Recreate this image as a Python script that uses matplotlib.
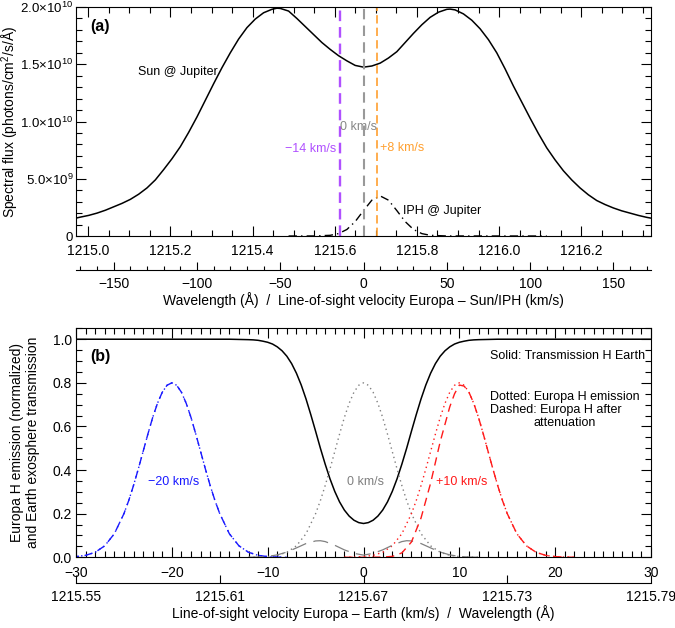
import numpy as np
import matplotlib
matplotlib.use("Agg")
import matplotlib.pyplot as plt
from matplotlib.ticker import MultipleLocator, FixedLocator, FixedFormatter, FormatStrFormatter

plt.rcParams['font.family'] = ['Liberation Sans', 'DejaVu Sans']
plt.rcParams['mathtext.fontset'] = 'custom'
plt.rcParams['mathtext.rm'] = 'Liberation Sans'
plt.rcParams['mathtext.it'] = 'Liberation Sans:italic'
plt.rcParams['axes.unicode_minus'] = True

LAM0 = 1215.67
KMS_PER_A = 246.61  # c / lambda0

# ---- panel (a) data: velocity (km/s) and flux (1e10 photons/cm2/s/A)
sun_v = [-173, -170, -165, -160, -155, -150, -145, -140, -135, -130, -125, -120, -115, -110, -105,
         -100, -95, -90, -85, -80, -75, -70, -65, -60, -55, -52, -50, -45, -40, -35, -30, -25, -20,
         -15, -10, -5, 0, 5, 10, 15, 20, 25, 30, 35, 40, 45, 50, 52, 55, 60, 65, 70, 75, 80, 85,
         90, 95, 100, 105, 110, 115, 120, 125, 130, 135, 140, 145, 150, 155, 160, 165, 170, 173]
sun_flux = [0.155, 0.165, 0.18, 0.20, 0.225, 0.255, 0.285, 0.32, 0.365, 0.42, 0.49, 0.58, 0.675, 0.78, 0.905,
            1.04, 1.185, 1.33, 1.47, 1.60, 1.72, 1.82, 1.895, 1.95, 1.98, 1.99, 1.988, 1.965, 1.90, 1.83, 1.76, 1.69, 1.63,
            1.575, 1.53, 1.49, 1.475, 1.485, 1.51, 1.555, 1.61, 1.69, 1.77, 1.845, 1.91, 1.955, 1.98, 1.982, 1.975, 1.94, 1.885, 1.81, 1.715, 1.60, 1.46,
            1.31, 1.17, 1.03, 0.895, 0.77, 0.665, 0.57, 0.49, 0.42, 0.36, 0.31, 0.275, 0.245, 0.22, 0.20, 0.18, 0.163, 0.155]

iph_v = [-45, -30, -20, -15, -10, -5, 0, 5, 10, 15, 20, 25, 30, 35, 40, 50, 110]
iph_flux = [0.0, 0.0003, 0.006, 0.021, 0.057, 0.126, 0.222, 0.313, 0.35, 0.313, 0.222, 0.126, 0.057, 0.021, 0.006, 0.0003, 0.0]

shift_v = [-14, 0, 8]
shift_labels = ['\u221214 km/s', '0 km/s', '+8 km/s']
shift_colors = ['#b050ff', '#999999', '#ffa030']

# ---- panel (b) data
trans_v = [-30, -14, -13, -12, -11.5, -11, -10.5, -10, -9.5, -9, -8.5, -8, -7.5, -7, -6.5, -6, -5.5, -5,
           -4.5, -4, -3.5, -3, -2.5, -2, -1.5, -1, -0.5, 0,
           0.5, 1, 1.5, 2, 2.5, 3, 3.5, 4, 4.5, 5, 5.5, 6, 6.5, 7, 7.5, 8, 8.5, 9, 9.5, 10,
           10.5, 11, 11.5, 12, 13, 14, 30]
trans = [1.0, 1.0, 0.999, 0.998, 0.997, 0.995, 0.991, 0.986, 0.978, 0.965, 0.947, 0.922, 0.888, 0.844, 0.79, 0.726, 0.654, 0.578,
         0.50, 0.427, 0.36, 0.302, 0.254, 0.2165, 0.189, 0.170, 0.159, 0.155,
         0.159, 0.170, 0.189, 0.2165, 0.254, 0.302, 0.36, 0.427, 0.50, 0.578, 0.654, 0.726, 0.79, 0.844, 0.888, 0.922, 0.947, 0.965, 0.978, 0.986,
         0.991, 0.995, 0.997, 0.998, 0.999, 1.0, 1.0]

# Europa emission line shape (offset from line centre, km/s)
emis_off = [-12, -11, -10, -9, -8, -7, -6, -5, -4.5, -4, -3.5, -3, -2.5, -2, -1.5, -1, -0.5, 0,
            0.5, 1, 1.5, 2, 2.5, 3, 3.5, 4, 4.5, 5, 6, 7, 8, 9, 10, 11, 12]
emis = [0.0, 0.001, 0.0031, 0.0089, 0.0229, 0.0526, 0.108, 0.200, 0.26, 0.329, 0.405, 0.485, 0.565, 0.641, 0.706, 0.757, 0.789, 0.8,
        0.789, 0.757, 0.706, 0.641, 0.565, 0.485, 0.405, 0.329, 0.26, 0.200, 0.108, 0.0526, 0.0229, 0.0089, 0.0031, 0.001, 0.0]

centres = [-20, 0, 10]
centre_labels = ['\u221220 km/s', '0 km/s', '+10 km/s']
centre_colors = ['#1a1aff', '#808080', '#ff1a1a']

# attenuated emission (dashed)
att0_v = [-12, -11, -10, -9, -8, -7, -6, -5, -4.5, -4, -3, -2, -1, 0, 1, 2, 3, 4, 4.5, 5, 6, 7, 8, 9, 10, 11, 12]
att0 = [0.0, 0.001, 0.004, 0.011, 0.024, 0.043, 0.063, 0.075, 0.076, 0.072, 0.055, 0.034, 0.018, 0.010,
        0.018, 0.034, 0.055, 0.072, 0.076, 0.075, 0.063, 0.043, 0.024, 0.011, 0.004, 0.001, 0.0]
att10_v = [-2, 0, 2, 3, 4, 5, 6, 7, 8, 9, 9.5, 10, 10.5, 11, 11.5, 12, 12.5, 13, 13.5, 14, 14.5, 15,
           16, 17, 18, 19, 20, 21, 22]
att10 = [0.0, 0.0, 0.001, 0.004, 0.02, 0.07, 0.18, 0.34, 0.53, 0.69, 0.75, 0.79, 0.785, 0.757, 0.706, 0.641,
         0.565, 0.485, 0.405, 0.329, 0.26, 0.200, 0.108, 0.0526, 0.0229, 0.0089, 0.0031, 0.001, 0.0]


def v2l(v):
    return LAM0 + np.asarray(v, dtype=float) / KMS_PER_A


def l2v(l):
    return (np.asarray(l, dtype=float) - LAM0) * KMS_PER_A


fig = plt.figure(figsize=(6.75, 6.28), dpi=100)
ax1 = fig.add_axes([0.1126, 0.6242, 0.8519, 0.3646])
ax2 = fig.add_axes([0.1126, 0.1126, 0.8519, 0.3646])

tick_kw = dict(direction='in', top=True, right=True, labelsize=10, width=0.8)

# ================= panel (a)
ax1.plot(v2l(sun_v), np.array(sun_flux) * 1e10, color='black', lw=1.1)
ax1.plot(v2l(iph_v), np.array(iph_flux) * 1e10, color='black', lw=1.0, linestyle=(0, (6, 3, 1, 3)))
for vs, c, lw, d in zip(shift_v, shift_colors, [1.7, 1.5, 1.2], [(4.5, 2.5), (5, 3), (5, 2.5)]):
    ax1.axvline(v2l(vs), color=c, lw=lw, linestyle=(0, d))

ax1.text(v2l(-16.6), 0.76e10, shift_labels[0], color=shift_colors[0], fontsize=9, ha='right', va='center')
ax1.text(v2l(-14.2), 0.956e10, shift_labels[1], color='#888888', fontsize=9, ha='left', va='center')
ax1.text(v2l(9.7), 0.77e10, shift_labels[2], color=shift_colors[2], fontsize=9, ha='left', va='center')
ax1.text(v2l(-111.2), 1.43e10, 'Sun @ Jupiter', fontsize=9, ha='center', va='center')
ax1.text(v2l(23.5), 0.22e10, 'IPH @ Jupiter', fontsize=9, ha='left', va='center')
ax1.text(0.024, 0.913, '(a)', transform=ax1.transAxes, fontsize=11.5, fontweight='bold', ha='left', va='center')

ax1.set_xlim(LAM0 - 0.7, LAM0 + 0.7)
ax1.set_ylim(0, 2.0e10)
ax1.xaxis.set_major_locator(FixedLocator([1215.0, 1215.2, 1215.4, 1215.6, 1215.8, 1216.0, 1216.2]))
ax1.xaxis.set_major_formatter(FormatStrFormatter('%.1f'))
ax1.xaxis.set_minor_locator(MultipleLocator(0.05))
ax1.yaxis.set_major_locator(FixedLocator([0, 0.5e10, 1.0e10, 1.5e10, 2.0e10]))
ax1.yaxis.set_major_formatter(FixedFormatter(['0', '5.0\u00d710$^{9}$', '1.0\u00d710$^{10}$',
                                              '1.5\u00d710$^{10}$', '2.0\u00d710$^{10}$']))
ax1.yaxis.set_minor_locator(MultipleLocator(0.1e10))
ax1.tick_params(which='both', **tick_kw)
ax1.tick_params(which='major', length=7)
ax1.tick_params(which='minor', length=4)
ax1.tick_params(axis='y', pad=2, labelsize=9.5)
ax1.tick_params(axis='x', pad=5.5)
ax1.set_ylabel('Spectral flux (photons/cm$^{2}$/s/\u00c5)', fontsize=10)
ax1.yaxis.set_label_coords(-0.095, 0.5)

sec1 = ax1.secondary_xaxis(-0.148, functions=(l2v, v2l))
sec1.xaxis.set_major_locator(FixedLocator([-150, -100, -50, 0, 50, 100, 150]))
sec1.xaxis.set_minor_locator(FixedLocator(list(range(-170, 171, 10))))
sec1.tick_params(which='both', direction='in', labelsize=10, width=0.8, pad=5)
sec1.tick_params(which='major', length=6)
sec1.tick_params(which='minor', length=3)
sec1.set_xlabel('Wavelength (\u00c5)  /  Line-of-sight velocity Europa \u2013 Sun/IPH (km/s)', fontsize=10, labelpad=1)

# ================= panel (b)
ax2.plot(trans_v, trans, color='black', lw=1.1)
for cv, col in zip(centres, centre_colors):
    ax2.plot(np.array(emis_off) + cv, emis, color=col, lw=1.0, linestyle=(0, (1, 2.5)))
ax2.plot(np.array(emis_off) - 20, emis, color=centre_colors[0], lw=1.0, linestyle=(0, (6, 4)))
ax2.plot(att0_v, att0, color=centre_colors[1], lw=0.9, linestyle=(0, (12, 6)))
ax2.plot(att10_v, att10, color=centre_colors[2], lw=1.0, linestyle=(0, (6, 4)))

for cv, lab, col in zip(centres, centre_labels, centre_colors):
    ax2.text(cv + 0.2, 0.347, lab, color=col, fontsize=9, ha='center', va='center')

ax2.text(13.2, 0.925, 'Solid: Transmission H Earth', fontsize=9, ha='left', va='center')
ax2.text(13.2, 0.737, 'Dotted: Europa H emission', fontsize=9, ha='left', va='center')
ax2.text(13.2, 0.676, 'Dashed: Europa H after', fontsize=9, ha='left', va='center')
ax2.text(17.7, 0.616, 'attenuation', fontsize=9, ha='left', va='center')
ax2.text(0.024, 0.876, '(b)', transform=ax2.transAxes, fontsize=11.5, fontweight='bold', ha='left', va='center')

ax2.set_xlim(-30, 30)
ax2.set_ylim(0, 1.05)
ax2.xaxis.set_major_locator(MultipleLocator(10))
ax2.xaxis.set_minor_locator(MultipleLocator(1))
ax2.yaxis.set_major_locator(MultipleLocator(0.2))
ax2.yaxis.set_minor_locator(MultipleLocator(0.05))
ax2.yaxis.set_major_formatter(FormatStrFormatter('%.1f'))
ax2.tick_params(which='both', **tick_kw)
ax2.tick_params(which='major', length=7)
ax2.tick_params(which='minor', length=4)
ax2.tick_params(axis='x', pad=6)
ax2.tick_params(axis='y', pad=3)
ax2.set_ylabel('Europa H emission (normalized)\nand Earth exosphere transmission', fontsize=10)
ax2.yaxis.set_label_coords(-0.062, 0.5)

sec2 = ax2.secondary_xaxis(-0.112, functions=(lambda v: LAM0 + v * 0.004, lambda l: (l - LAM0) / 0.004))
sec2.xaxis.set_major_locator(FixedLocator([1215.55, 1215.61, 1215.67, 1215.73, 1215.79]))
sec2.xaxis.set_major_formatter(FormatStrFormatter('%.2f'))
sec2.tick_params(which='major', direction='in', length=6, labelsize=10, width=0.8, pad=5)
sec2.set_xlabel('Line-of-sight velocity Europa \u2013 Earth (km/s)  /  Wavelength (\u00c5)', fontsize=10, labelpad=1)

fig.savefig('out.png', dpi=100)
